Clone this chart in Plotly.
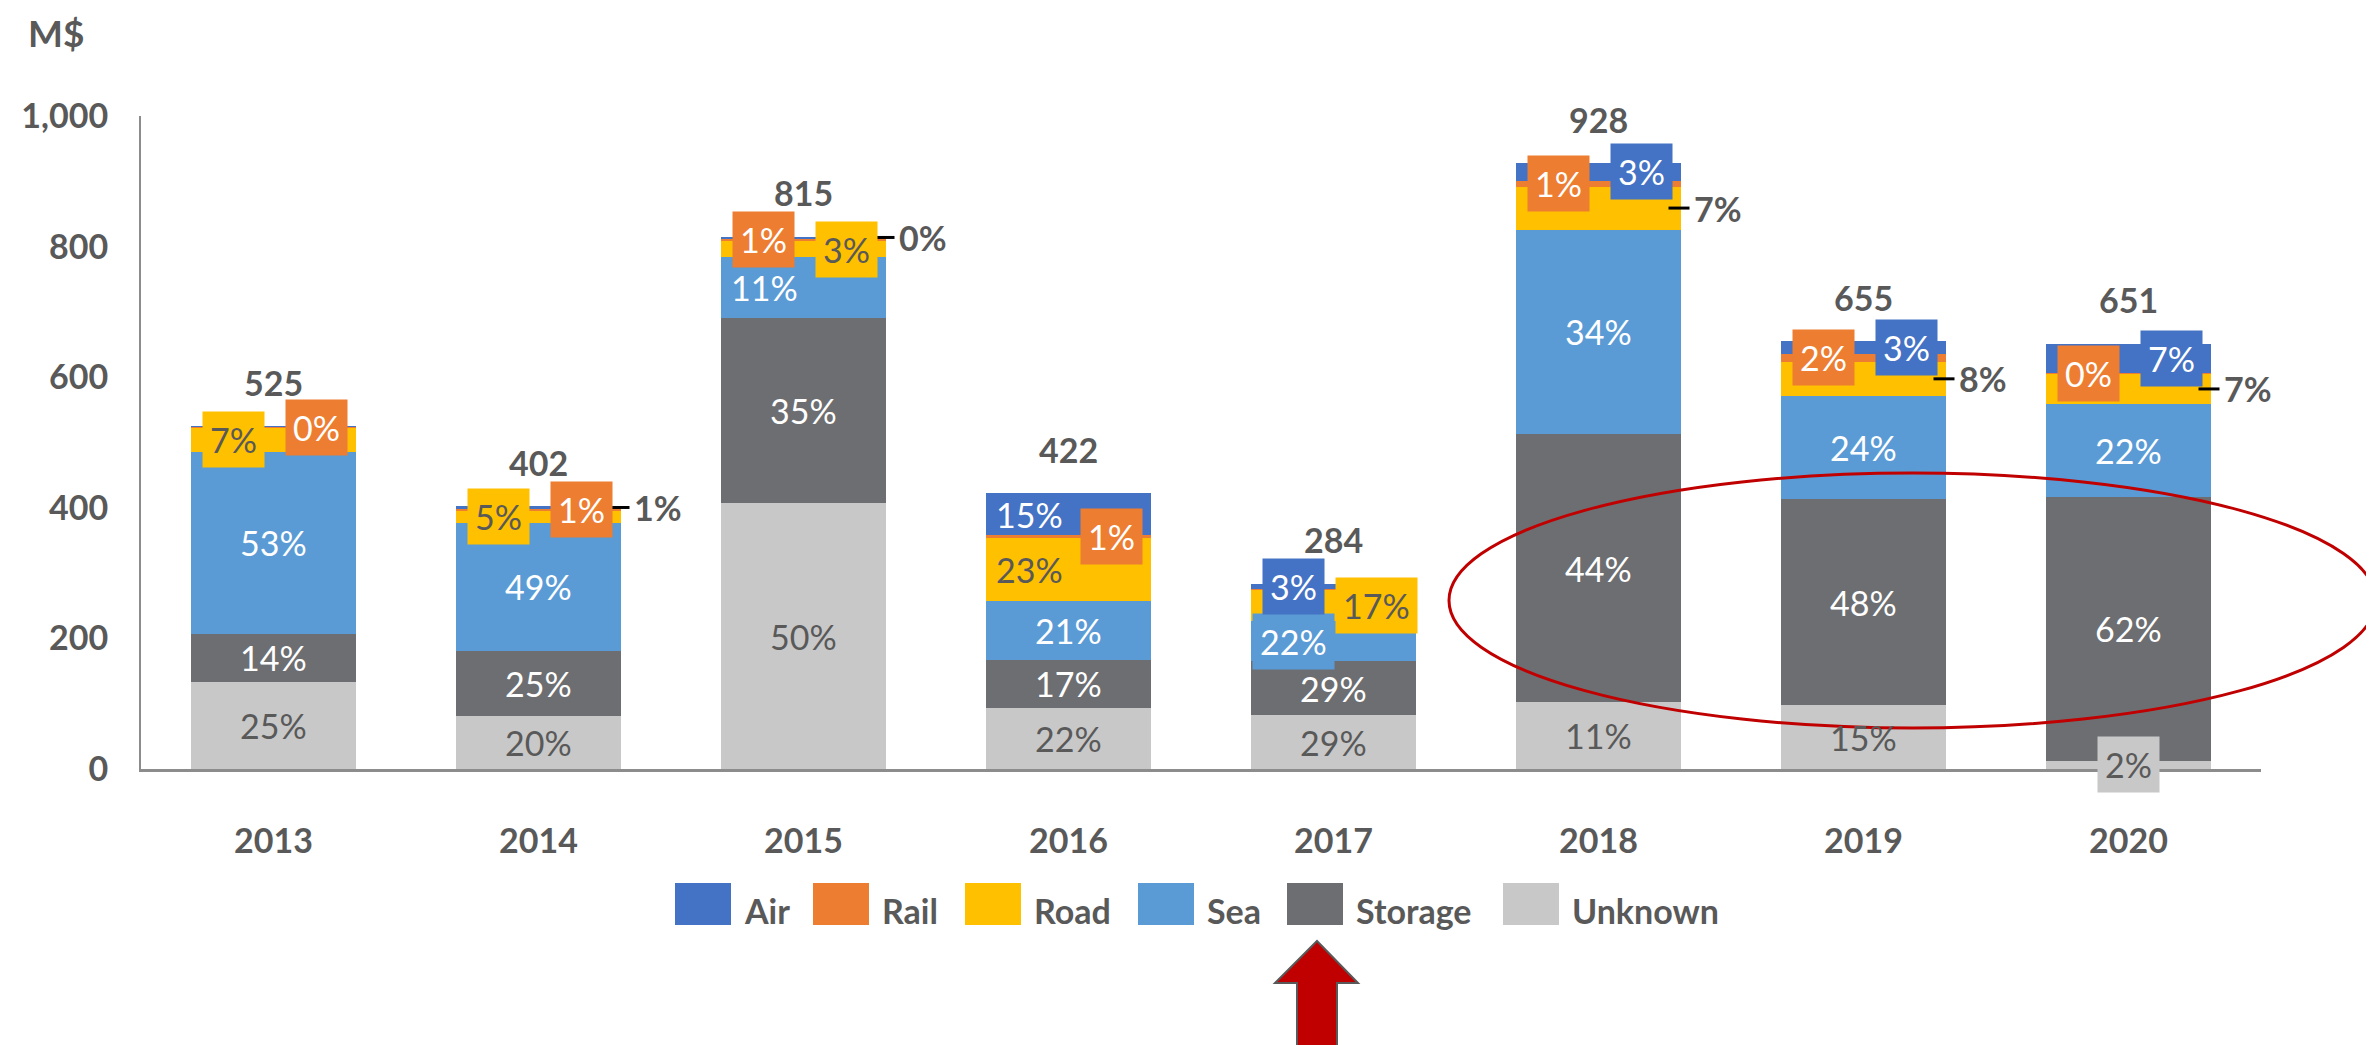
import plotly.graph_objects as go

# ---------------- data (M$) ----------------
years = ["2013", "2014", "2015", "2016", "2017", "2018", "2019", "2020"]
unknown = [133, 81, 407, 94, 82, 102, 98, 13]
storage = [74, 100, 284, 73, 83, 411, 315, 404]
sea = [279, 196, 93, 90, 62, 313, 158, 142]
road = [37, 19, 24, 97, 48, 66, 53, 46]
rail = [1, 3, 5, 4, 1, 9, 11, 1]
air = [1, 3, 2, 64, 8, 27, 20, 45]
y_ticks = [0, 200, 400, 600, 800, 1000]

series = [("Unknown", unknown), ("Storage", storage), ("Sea", sea),
          ("Road", road), ("Rail", rail), ("Air", air)]
legend_order = ["Air", "Rail", "Road", "Sea", "Storage", "Unknown"]

# ---------------- styles ----------------
COLORS = {"Air": "#4472C4", "Rail": "#ED7D31", "Road": "#FFC000",
          "Sea": "#5B9BD5", "Storage": "#6D6E71", "Unknown": "#C8C8C8"}
TEXT_COLORS = {"Air": "#FFFFFF", "Rail": "#FFFFFF", "Road": "#595959",
               "Sea": "#FFFFFF", "Storage": "#FFFFFF", "Unknown": "#595959"}
LABEL_STYLE = {
    "Air":     [None, "out", "out", "left", "boxL", "boxR", "boxR", "boxR"],
    "Rail":    ["boxR", "boxR", "boxL", "boxR", None, "boxL", "boxL", "boxL"],
    "Road":    ["boxL", "boxL", "boxR", "left", "boxR", "out", "out", "out"],
    "Sea":     ["in", "in", "left", "in", "boxL", "in", "in", "in"],
    "Storage": ["in"] * 8,
    "Unknown": ["in"] * 7 + ["boxC"],
}
OFFSETS = {"in": 0, "left": -39, "boxL": -40, "boxR": 43, "boxC": 0}
FONT = "Lato, 'Open Sans', sans-serif"
GREY_TXT = "#595959"
FS = 34

W, H = 2374, 1045
L, R, T, B = 133, 121, 108, 284
PW, PH = W - L - R, H - T - B


def px(xp):
    return (xp - L) / PW


def py(yp):
    return (H - B - yp) / PH


idx = list(range(len(years)))
totals = [sum(v[i] for _, v in series) for i in idx]

fig = go.Figure()
for name, vals in series:
    fig.add_trace(go.Bar(x=idx, y=vals, name=name, width=0.625,
                         marker=dict(color=COLORS[name], line=dict(width=0)),
                         showlegend=False))

annotations = []
shapes = []

base = [0] * len(idx)
for name, vals in series:
    for i, v in enumerate(vals):
        mid = base[i] + v / 2
        style = LABEL_STYLE[name][i]
        txt = f"{int(v / totals[i] * 100 + 0.5)}%"
        if style is None:
            continue
        if style == "out":
            shapes.append(dict(type="line", xref="x", yref="y",
                               xsizemode="pixel", ysizemode="pixel",
                               xanchor=i, yanchor=mid, x0=70, x1=91, y0=0, y1=0,
                               line=dict(color="#000000", width=3)))
            annotations.append(dict(x=i, y=mid, xref="x", yref="y", text=txt,
                                    showarrow=False, xanchor="left", yanchor="middle",
                                    xshift=93,
                                    font=dict(family=FONT, size=FS, color=GREY_TXT,
                                              weight="bold")))
        else:
            d = dict(x=i, y=mid, xref="x", yref="y", text=txt, showarrow=False,
                     xanchor="center", yanchor="middle", xshift=OFFSETS[style],
                     font=dict(family=FONT, size=FS, color=TEXT_COLORS[name]))
            if style.startswith("box"):
                d["bgcolor"] = COLORS[name]
                d["borderpad"] = 7
            annotations.append(d)
    base = [b + v for b, v in zip(base, vals)]

# totals above bars
for i, t in zip(idx, totals):
    annotations.append(dict(x=i, y=t, xref="x", yref="y", text=f"{t:,}",
                            showarrow=False, yanchor="middle", yshift=44,
                            font=dict(family=FONT, size=FS, color=GREY_TXT,
                                      weight="bold")))

# unit label
annotations.append(dict(x=px(18), y=py(25), xref="paper", yref="paper", text="M$",
                        showarrow=False, xanchor="left", yanchor="middle",
                        font=dict(family=FONT, size=37, color=GREY_TXT, weight="bold")))

# custom legend
leg_x = [667, 805, 957, 1130, 1279, 1495]
for name, x0 in zip(legend_order, leg_x):
    shapes.append(dict(type="rect", xref="paper", yref="paper",
                       x0=px(x0), x1=px(x0 + 56), y0=py(917), y1=py(875),
                       fillcolor=COLORS[name], line=dict(width=0)))
    annotations.append(dict(x=px(x0 + 67), y=py(902), xref="paper", yref="paper",
                            text=name, showarrow=False, xanchor="left",
                            yanchor="middle",
                            font=dict(family=FONT, size=34, color=GREY_TXT,
                                      weight="bold")))

# red ellipse
shapes.append(dict(type="circle", xref="paper", yref="paper",
                   x0=px(1441), x1=px(2368), y0=py(720), y1=py(465),
                   line=dict(color="#C00000", width=3)))

# red arrow
pts = [(1309, 933), (1350, 975), (1329, 975), (1329, 1050), (1289, 1050),
       (1289, 975), (1267, 975)]
path = "M " + " L ".join(f"{px(a):.5f},{py(b):.5f}" for a, b in pts) + " Z"
shapes.append(dict(type="path", xref="paper", yref="paper", path=path,
                   fillcolor="#C00000", line=dict(color="#595959", width=2)))

fig.update_layout(
    barmode="stack",
    width=W, height=H, autosize=False,
    margin=dict(l=L, r=R, t=T, b=B, pad=0),
    paper_bgcolor="white", plot_bgcolor="white",
    font=dict(family=FONT, size=FS, color=GREY_TXT),
    showlegend=False,
    annotations=annotations,
    shapes=shapes,
    xaxis=dict(range=[-0.5, 7.5], tickvals=idx, ticktext=years,
               showline=True, linecolor="#8C8C8C", linewidth=3,
               showgrid=False, zeroline=False, ticks="",
               ticklabelstandoff=40,
               tickfont=dict(family=FONT, size=FS, color=GREY_TXT, weight="bold")),
    yaxis=dict(range=[0, 1000], tickvals=y_ticks,
               ticktext=[f"{v:,}" for v in y_ticks],
               showline=True, linecolor="#8C8C8C", linewidth=2,
               showgrid=False, zeroline=False, ticks="",
               ticklabelstandoff=24,
               tickfont=dict(family=FONT, size=FS, color=GREY_TXT, weight="bold")),
)

fig.write_html("out.html")
